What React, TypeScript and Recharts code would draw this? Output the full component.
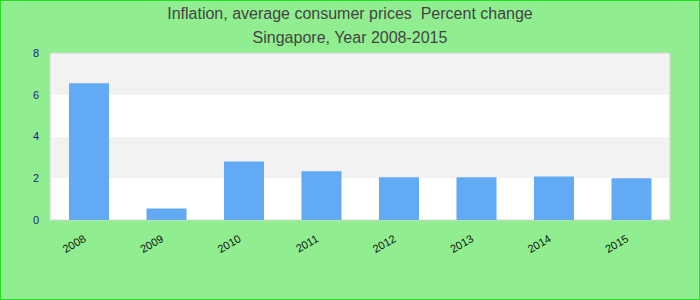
import React from 'react';
import { BarChart, Bar, XAxis, YAxis, CartesianGrid, ReferenceArea } from 'recharts';

const years = ['2008', '2009', '2010', '2011', '2012', '2013', '2014', '2015'];
const inflation = [6.55, 0.55, 2.8, 2.33, 2.05, 2.05, 2.08, 2.0];
const yTicks = [0, 2, 4, 6, 8];
const titleLine1 = 'Inflation, average consumer prices  Percent change';
const titleLine2 = 'Singapore, Year 2008-2015';

const data = years.map((year, i) => ({ year, value: inflation[i] }));

const XTick = (props: any) => {
  const { x, y, payload } = props;
  const ax = x - 2;
  const ay = y + 13;
  return (
    <text
      x={ax}
      y={ay}
      transform={`rotate(-30, ${ax}, ${ay})`}
      textAnchor="end"
      fontSize={11}
      fontFamily="'Liberation Sans', Arial, sans-serif"
      fill="#111"
    >
      {payload.value}
    </text>
  );
};

export default function App() {
  return (
    <div style={{ position: 'absolute', left: 0, top: 0, width: 700, height: 300, background: '#90ee90', overflow: 'hidden' }}>
      <div
        style={{
          position: 'absolute', left: 0, top: 5, width: 700, textAlign: 'center',
          fontFamily: "'Liberation Sans', Arial, sans-serif", fontSize: 16, lineHeight: '18px', color: '#444',
          whiteSpace: 'pre',
        }}
      >
        {titleLine1}
      </div>
      <div
        style={{
          position: 'absolute', left: 0, top: 29, width: 700, textAlign: 'center',
          fontFamily: "'Liberation Sans', Arial, sans-serif", fontSize: 16, lineHeight: '18px', color: '#444',
        }}
      >
        {titleLine2}
      </div>
      <div style={{ position: 'absolute', left: 0, top: 0 }}>
        <BarChart width={700} height={300} data={data} margin={{ top: 53, right: 30, bottom: 40, left: 10 }}>
          <CartesianGrid
            horizontal={true}
            vertical={false}
            stroke="none"
            horizontalFill={['#f2f2f2', '#ffffff']}
            fillOpacity={1}
          />
          <XAxis
            dataKey="year"
            height={40}
            axisLine={false}
            tickLine={false}
            tick={<XTick />}
            interval={0}
          />
          <YAxis
            width={40}
            domain={[0, 8]}
            ticks={yTicks}
            axisLine={false}
            tickLine={false}
            tickMargin={5}
            tick={{ fontSize: 11, fill: '#1a1a8c', fontFamily: "'Liberation Sans', Arial, sans-serif" }}
          />
          <Bar dataKey="value" fill="#62aaf4" barSize={40} isAnimationActive={false} />
          <ReferenceArea y1={0} y2={8} fill="none" stroke="#d4d4d4" strokeWidth={1} fillOpacity={0} />
        </BarChart>
      </div>
      <div style={{ position: 'absolute', left: 0, top: 0, width: 700, height: 300, boxSizing: 'border-box', border: '1px solid #22dd22', pointerEvents: 'none' }} />
    </div>
  );
}
